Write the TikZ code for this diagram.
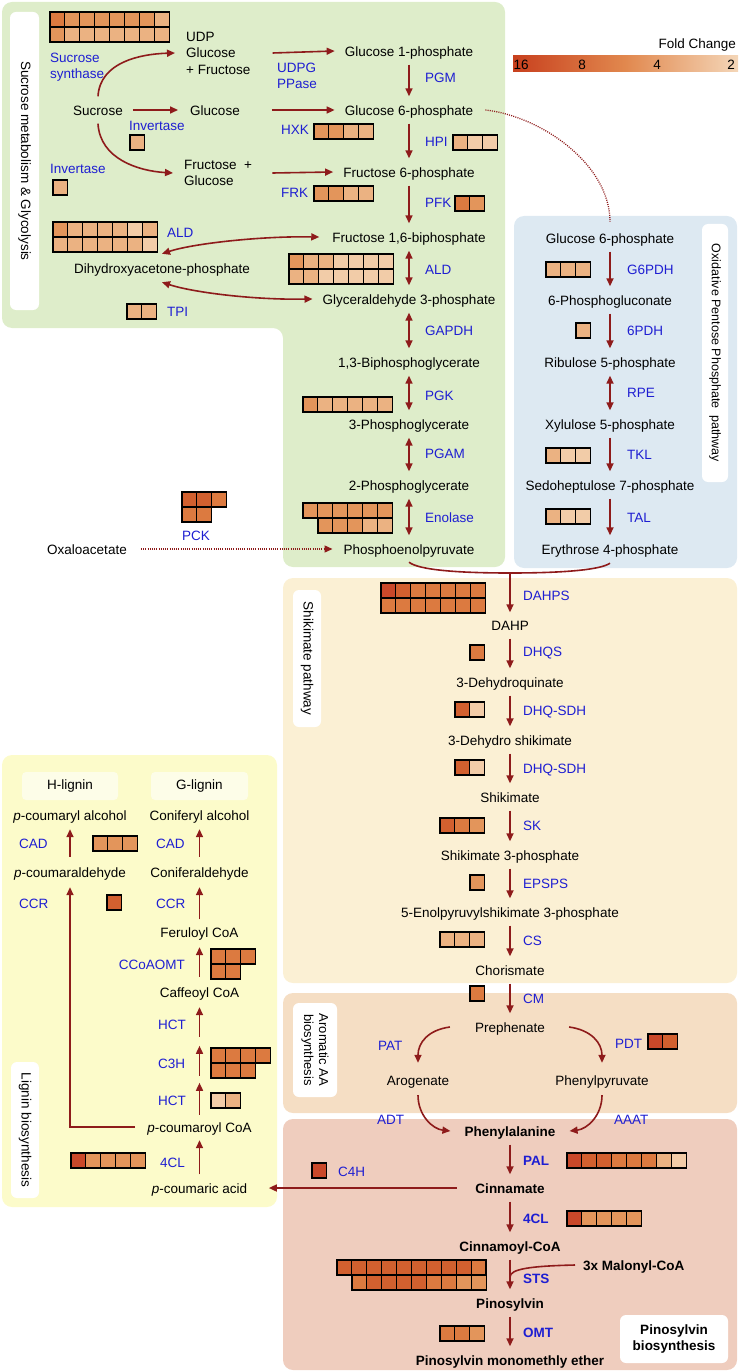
\documentclass[tikz,border=0pt]{standalone}
\usepackage{fontspec}
\setmainfont{Liberation Sans}
\usetikzlibrary{arrows.meta,calc}
\definecolor{fca}{HTML}{C9482A}
\definecolor{fcb}{HTML}{D2602F}
\definecolor{fcc}{HTML}{DC7A40}
\definecolor{fcd}{HTML}{E3955B}
\definecolor{fce}{HTML}{EBB282}
\definecolor{fcf}{HTML}{F2CCA8}
\definecolor{cbA}{HTML}{C8401E}
\definecolor{cbB}{HTML}{E1884E}
\definecolor{cbC}{HTML}{F4D6B8}
\definecolor{pgreen}{HTML}{DEEDCA}
\definecolor{pblue}{HTML}{DDE9F2}
\definecolor{pshik}{HTML}{FBF0D4}
\definecolor{parom}{HTML}{F5DEC4}
\definecolor{ppino}{HTML}{EFCDBE}
\definecolor{plig}{HTML}{FCFBCA}
\definecolor{lboxc}{HTML}{FDFDE8}
\definecolor{enzblue}{HTML}{1E1ED2}
\definecolor{arrred}{HTML}{8E1B1B}
\newcommand\fs{\fontsize{13.5}{16.5}\selectfont}
\newcommand\hmap[3]{\foreach \hmc [count=\hmi from 0] in {#3} {\filldraw[cell, fill=fc\hmc] ({#1+\hmi*14.9},{#2}) rectangle ++(14.9,15);}}
\begin{document}
\begin{tikzpicture}[x=1pt,y=-1pt,
  met/.style={font=\fs, inner sep=0pt, text height=12pt, text depth=1pt},
  metb/.style={met, font=\fs\bfseries},
  mml/.style={font=\fs, inner sep=0pt, align=left},
  enz/.style={font=\fs, text=enzblue, inner sep=0pt, text height=12pt, text depth=1pt, anchor=west},
  enzb/.style={enz, font=\fs\bfseries},
  enzm/.style={font=\fs, text=enzblue, inner sep=0pt, align=left, anchor=west},
  arr/.style={draw=arrred, line width=1.6pt, -{Triangle[length=8pt,width=7pt]}},
  darr/.style={draw=arrred, line width=1.6pt, {Triangle[length=8pt,width=7pt]}-{Triangle[length=8pt,width=7pt]}},
  link/.style={draw=arrred, line width=1.6pt},
  dotarr/.style={draw=arrred, line width=1.3pt, dash pattern=on 1pt off 1.2pt},
  cell/.style={draw=black, line width=1.1pt},
  plabel/.style={fill=white, rounded corners=6pt, inner sep=0pt, font=\fs},
  lbox/.style={fill=lboxc, rounded corners=4pt, inner sep=0pt, font=\fs}
]
\useasboundingbox (0,0) rectangle (740,1372);
% ---------- panels
\fill[pgreen, rounded corners=10pt] (2,2) -- (505,2) -- (505,567) -- (283,567) -- (283,328) -- (2,328) -- cycle;
\fill[pblue, rounded corners=10pt] (514,216) rectangle (737,568);
\fill[pshik, rounded corners=10pt] (283,578) rectangle (737,983);
\fill[parom, rounded corners=10pt] (283,993) rectangle (737,1113);
\fill[ppino, rounded corners=10pt] (283,1119) rectangle (737,1370);
\fill[plig, rounded corners=10pt] (2,755) rectangle (277,1207);
% ---------- panel labels
\node[plabel, rotate=-90, minimum width=298pt, minimum height=29pt] (lsuc) at (24.5,161) {Sucrose metabolism \& Glycolysis};
\node[plabel, rotate=-90, minimum width=258pt, minimum height=26pt, font=\fontsize{12.5}{15}\selectfont] (lopp) at (715,353) {Oxidative Pentose Phosphate~~pathway};
\node[plabel, rotate=-90, minimum width=137pt, minimum height=28pt] (lshik) at (307,658.5) {Shikimate pathway};
\node[plabel, rotate=-90, minimum width=94pt, minimum height=44pt, align=center, font=\fontsize{13}{15}\selectfont] (larom) at (315,1050) {Aromatic AA\\biosynthesis};
\node[plabel, rotate=-90, minimum width=136pt, minimum height=28pt] (llig) at (25,1130) {Lignin biosynthesis};
\node[plabel, minimum width=108pt, minimum height=48pt, align=center, font=\fs\bfseries] (lpino) at (674,1339) {Pinosylvin\\biosynthesis};
% ---------- legend
\node[met, anchor=east] (fclab) at (736,43) {Fold Change};
\shade[left color=cbA, right color=cbB] (513,56) rectangle (625,72);
\shade[left color=cbB, right color=cbC] (625,56) rectangle (738,72);
\node[met] (l16) at (521,64) {16};
\node[met] (l8) at (582,64) {8};
\node[met] (l4) at (657,64) {4};
\node[met] (l2) at (731,64) {2};
% ---------- heatmaps
\hmap{50}{12}{c,d,d,d,d,d,d,e}
\hmap{50}{27}{d,e,e,e,e,e,e,e}
\hmap{130}{135}{e}
\hmap{53}{180}{e}
\hmap{314}{124}{d,d,e,e}
\hmap{314}{186}{d,d,e,e}
\hmap{453}{135}{e,f,f}
\hmap{455}{196}{c,d}
\hmap{53}{222}{d,e,e,e,e,f,e}
\hmap{53}{237}{e,e,e,e,e,e,f}
\hmap{289}{254}{d,e,e,f,f,f,f}
\hmap{289}{269}{e,e,f,f,f,f,f}
\hmap{127}{304}{e,e}
\hmap{303}{397}{d,e,e,e,e,e}
\hmap{303}{503}{d,d,d,d,d,d}
\hmap{318}{518}{d,d,d,e,e}
\hmap{182}{492}{b,b,c}
\hmap{182}{507}{c,c}
\hmap{546}{262}{e,e,e}
\hmap{576}{323}{e}
\hmap{546}{448}{e,f,f}
\hmap{546}{509}{e,f,f}
\hmap{381}{583}{a,b,c,c,c,c,c}
\hmap{381}{598}{c,c,c,c,c,c,c}
\hmap{470}{645}{c}
\hmap{455}{702}{b,f}
\hmap{455}{760}{b,f}
\hmap{440}{818}{b,c,d}
\hmap{470}{875}{d}
\hmap{440}{932}{e,e,e}
\hmap{470}{986}{c}
\hmap{648}{1034}{a,b}
\hmap{567}{1153}{a,b,b,c,c,c,e,f}
\hmap{567}{1211}{a,d,d,d,d}
\hmap{337}{1260}{b,b,b,b,b,b,b,b,b,c}
\hmap{352}{1275}{c,b,b,b,b,c,c,d,d}
\hmap{440}{1326}{c,c,d}
\hmap{312}{1163}{a}
\hmap{71}{1153}{a,d,d,d,d}
\hmap{211}{1093}{f,e}
\hmap{211}{1048}{c,c,c,c}
\hmap{211}{1063}{c,c,c}
\hmap{211}{949}{c,c,c}
\hmap{211}{964}{c,c}
\hmap{93}{836}{d,d,d}
\hmap{107}{895}{b}
% ---------- metabolites: sucrose / glycolysis
\node[mml, anchor=west] (udp) at (186,53) {UDP\\Glucose\\+ Fructose};
\node[met] (suc) at (98,110) {Sucrose};
\node[met] (glc) at (215,110) {Glucose};
\node[mml, anchor=west] (fg) at (184,173) {Fructose\ \ +\\Glucose};
\node[met] (dhap) at (162,268) {Dihydroxyacetone-phosphate};
\node[met] (oxa) at (87,549) {Oxaloacetate};
\node[met] (g1p) at (409,51) {Glucose 1-phosphate};
\node[met] (g6p) at (409,110) {Glucose 6-phosphate};
\node[met] (f6p) at (409,172) {Fructose 6-phosphate};
\node[met] (f16bp) at (409,237) {Fructose 1,6-biphosphate};
\node[met] (gap) at (409,299) {Glyceraldehyde 3-phosphate};
\node[met] (bpg) at (409,362) {1,3-Biphosphoglycerate};
\node[met] (pg3) at (409,424) {3-Phosphoglycerate};
\node[met] (pg2) at (409,485) {2-Phosphoglycerate};
\node[met] (pep) at (409,549) {Phosphoenolpyruvate};
% pentose phosphate
\node[met] (b6p) at (610,238) {Glucose 6-phosphate};
\node[met] (pgl) at (610,300) {6-Phosphogluconate};
\node[met] (ru5p) at (610,362) {Ribulose 5-phosphate};
\node[met] (xu5p) at (610,424) {Xylulose 5-phosphate};
\node[met] (s7p) at (610,485) {Sedoheptulose 7-phosphate};
\node[met] (e4p) at (610,549) {Erythrose 4-phosphate};
% shikimate
\node[met] (dahp) at (510,625) {DAHP};
\node[met] (dhq) at (510,682) {3-Dehydroquinate};
\node[met] (dhs) at (510,740) {3-Dehydro shikimate};
\node[met] (shk) at (510,797) {Shikimate};
\node[met] (s3p) at (510,855) {Shikimate 3-phosphate};
\node[met] (epsp) at (510,912) {5-Enolpyruvylshikimate 3-phosphate};
\node[met] (cho) at (510,970) {Chorismate};
\node[met] (pre) at (510,1027) {Prephenate};
\node[met] (aro) at (418,1080) {Arogenate};
\node[met] (ppy) at (602,1080) {Phenylpyruvate};
\node[metb] (phe) at (510,1131) {Phenylalanine};
\node[metb] (cin) at (510,1188) {Cinnamate};
\node[metb] (cinc) at (510,1246) {Cinnamoyl-CoA};
\node[metb] (pin) at (510,1303) {Pinosylvin};
\node[metb] (pme) at (510,1360) {Pinosylvin monomethly ether};
\node[metb, anchor=west] (mal) at (583,1265) {3x Malonyl-CoA};
% lignin
\node[lbox, minimum width=96pt, minimum height=28pt] (hl) at (70,786) {H-lignin};
\node[lbox, minimum width=97pt, minimum height=28pt] (gl) at (199.5,786) {G-lignin};
\node[met] (pcalc) at (70,815) {\textit{p}-coumaryl alcohol};
\node[met] (pcald) at (70,872) {\textit{p}-coumaraldehyde};
\node[met] (conal) at (199.5,815) {Coniferyl alcohol};
\node[met] (conald) at (199.5,872) {Coniferaldehyde};
\node[met] (fer) at (199.5,932) {Feruloyl CoA};
\node[met] (caf) at (199.5,992) {Caffeoyl CoA};
\node[met] (pcoa) at (199.5,1127) {\textit{p}-coumaroyl CoA};
\node[met] (pca) at (199.5,1188) {\textit{p}-coumaric acid};
% ---------- enzyme labels
\node[enzm] (esus) at (50,67) {Sucrose\\synthase};
\node[enz] (einv1) at (129,125) {Invertase};
\node[enz] (einv2) at (50,168) {Invertase};
\node[enzm] (eudpg) at (277,76) {UDPG\\PPase};
\node[enz] (ehxk) at (281,129) {HXK};
\node[enz] (efrk) at (281,192) {FRK};
\node[enz] (epgm) at (425,77) {PGM};
\node[enz] (ehpi) at (425,141) {HPI};
\node[enz] (epfk) at (425,202) {PFK};
\node[enz] (eald) at (425,269) {ALD};
\node[enz] (egapdh) at (425,330) {GAPDH};
\node[enz] (epgk) at (425,395) {PGK};
\node[enz] (epgam) at (425,453) {PGAM};
\node[enz] (eeno) at (425,517) {Enolase};
\node[enz] (eald2) at (167,232) {ALD};
\node[enz] (etpi) at (167,311) {TPI};
\node[enz] (epck) at (182,535) {PCK};
\node[enz] (eg6pdh) at (627,269) {G6PDH};
\node[enz] (e6pdh) at (627,330) {6PDH};
\node[enz] (erpe) at (627,392) {RPE};
\node[enz] (etkl) at (627,454) {TKL};
\node[enz] (etal) at (627,517) {TAL};
\node[enz] (edahps) at (523,595) {DAHPS};
\node[enz] (edhqs) at (523,651) {DHQS};
\node[enz] (edhq1) at (523,710) {DHQ-SDH};
\node[enz] (edhq2) at (523,768) {DHQ-SDH};
\node[enz] (esk) at (523,825) {SK};
\node[enz] (eepsps) at (523,883) {EPSPS};
\node[enz] (ecs) at (523,940) {CS};
\node[enz] (ecm) at (523,998) {CM};
\node[enz] (epat) at (378,1045) {PAT};
\node[enz] (epdt) at (615,1043) {PDT};
\node[enz] (eadt) at (377,1119) {ADT};
\node[enz] (eaaat) at (614,1119) {AAAT};
\node[enzb] (epal) at (523,1160) {PAL};
\node[enz] (ec4h) at (338,1171) {C4H};
\node[enzb] (e4cl) at (523,1218) {4CL};
\node[enzb] (ests) at (523,1278) {STS};
\node[enzb] (eomt) at (523,1332) {OMT};
\node[enz] (ecad1) at (19,843) {CAD};
\node[enz] (eccr1) at (19,903) {CCR};
\node[enz] (ecad2) at (156,843) {CAD};
\node[enz] (eccr2) at (156,903) {CCR};
\node[enz, anchor=east] (eccoa) at (185,964) {CCoAOMT};
\node[enz] (ehct1) at (158,1024) {HCT};
\node[enz] (ec3h) at (158,1063) {C3H};
\node[enz] (ehct2) at (158,1100) {HCT};
\node[enz] (e4cll) at (160,1162) {4CL};
% ---------- connectors: sucrose
\draw[arr] ([xshift=10pt]suc.east) -- ([xshift=-12pt]glc.west);
\draw[arr] ([yshift=7pt]suc.north) .. controls +(2,-34) and +(-35,1) .. ([xshift=-11pt]udp.west);
\draw[arr] ([yshift=-7pt]suc.south) .. controls +(2,35) and +(-35,-2) .. ([xshift=-11pt]fg.west);
\draw[arr] ([xshift=22pt]udp.east) -- ([xshift=-10pt]g1p.west);
\draw[arr] ([xshift=32pt]glc.east) -- ([xshift=-10pt]g6p.west);
\draw[arr] ([xshift=20pt]fg.east) -- ([xshift=-10pt]f6p.west);
% glycolysis column
\draw[arr] ([yshift=-7pt]g1p.south) -- ([yshift=7pt]g6p.north);
\draw[arr] ([yshift=-7pt]g6p.south) -- ([yshift=7pt]f6p.north);
\draw[arr] ([yshift=-7pt]f6p.south) -- ([yshift=7pt]f16bp.north);
\draw[darr] ([yshift=-7pt]f16bp.south) -- ([yshift=7pt]gap.north);
\draw[darr] ([yshift=-7pt]gap.south) -- ([yshift=7pt]bpg.north);
\draw[darr] ([yshift=-7pt]bpg.south) -- ([yshift=7pt]pg3.north);
\draw[darr] ([yshift=-7pt]pg3.south) -- ([yshift=7pt]pg2.north);
\draw[darr] ([yshift=-7pt]pg2.south) -- ([yshift=7pt]pep.north);
\draw[darr] ([yshift=7.5pt]dhap.north) .. controls +(30,-10) and +(-60,-1) .. ([xshift=-13pt]f16bp.west);
\draw[darr] ([yshift=-7.5pt]dhap.south) .. controls +(30,10) and +(-60,1) .. ([xshift=-10pt]gap.west);
\draw[dotarr, -{Triangle[length=8pt,width=7pt]}] ([xshift=14pt]oxa.east) -- ([xshift=-11pt]pep.west);
\draw[dotarr] ([xshift=12pt]g6p.east) .. controls +(55,6) and +(0,-58) .. ([yshift=9.5pt]b6p.north);
% pentose phosphate column
\draw[arr] ([yshift=-7pt]b6p.south) -- ([yshift=7pt]pgl.north);
\draw[arr] ([yshift=-7pt]pgl.south) -- ([yshift=7pt]ru5p.north);
\draw[darr] ([yshift=-7pt]ru5p.south) -- ([yshift=7pt]xu5p.north);
\draw[arr] ([yshift=-7pt]xu5p.south) -- ([yshift=7pt]s7p.north);
\draw[arr] ([yshift=-7pt]s7p.south) -- ([yshift=7pt]e4p.north);
% merge to DAHP
\coordinate (merge) at (510,573);
\draw[link] ([yshift=-6.5pt]pep.south) .. controls +(10,8) and +(-50,0) .. (merge);
\draw[link] ([yshift=-7.5pt]e4p.south) .. controls +(-10,7) and +(50,0) .. (merge);
\draw[arr] (merge) -- ([yshift=6pt]dahp.north);
% shikimate column
\draw[arr] ([yshift=-7pt]dahp.south) -- ([yshift=7pt]dhq.north);
\draw[arr] ([yshift=-7pt]dhq.south) -- ([yshift=7pt]dhs.north);
\draw[arr] ([yshift=-7pt]dhs.south) -- ([yshift=7pt]shk.north);
\draw[arr] ([yshift=-7pt]shk.south) -- ([yshift=7pt]s3p.north);
\draw[arr] ([yshift=-7pt]s3p.south) -- ([yshift=7pt]epsp.north);
\draw[arr] ([yshift=-7pt]epsp.south) -- ([yshift=7pt]cho.north);
\draw[arr] ([yshift=-7pt]cho.south) -- ([yshift=7pt]pre.north);
% aromatic AA
\draw[arr] ([xshift=-25pt]pre.west) .. controls +(-22,3) and +(0,-20) .. ([yshift=10.5pt]aro.north);
\draw[arr] ([xshift=24pt]pre.east) .. controls +(22,3) and +(0,-20) .. ([yshift=10.5pt]ppy.north);
\draw[arr] ([yshift=-8.5pt]aro.south) .. controls +(0,20) and +(-18,-2) .. ([xshift=-14pt]phe.west);
\draw[arr] ([yshift=-8.5pt]ppy.south) .. controls +(0,20) and +(18,-2) .. ([xshift=14pt]phe.east);
% pinosylvin
\draw[arr] ([yshift=-7pt]phe.south) -- ([yshift=7pt]cin.north);
\draw[arr] ([yshift=-7pt]cin.south) -- ([yshift=7pt]cinc.north);
\draw[arr] ([yshift=-7pt]cinc.south) -- ([yshift=7pt]pin.north);
\draw[arr] ([yshift=-7pt]pin.south) -- ([yshift=7pt]pme.north);
\coordinate (stsj) at (510,1277);
\draw[link] ([xshift=-8pt]mal.west) .. controls +(-45,1) and +(0,-8) .. (stsj);
\draw[arr] ([xshift=-18.5pt]cin.west) -- ([xshift=21.5pt]pca.east);
% lignin
\draw[arr] ([yshift=7pt]pca.north) -- ([yshift=-6.5pt]pcoa.south);
\draw[arr] ([yshift=5.5pt]pcoa.north) -- ++(0,-32);
\draw[arr] ([yshift=44.5pt]pcoa.north) -- ++(0,-30);
\draw[arr] ([yshift=83.5pt]pcoa.north) -- ([yshift=-8.5pt]caf.south);
\draw[arr] ([yshift=8.5pt]caf.north) -- ([yshift=-8.5pt]fer.south);
\draw[arr] ([yshift=6pt]fer.north) -- ([yshift=-8.5pt]conald.south);
\draw[arr] ([yshift=8.5pt]conald.north) -- ([yshift=-7.5pt]conal.south);
\draw[arr] ([yshift=8.5pt]pcald.north) -- ([yshift=-7.5pt]pcalc.south);
\draw[arr] ([xshift=-12pt]pcoa.west) -| ([yshift=-8.5pt]pcald.south);
\end{tikzpicture}
\end{document}
